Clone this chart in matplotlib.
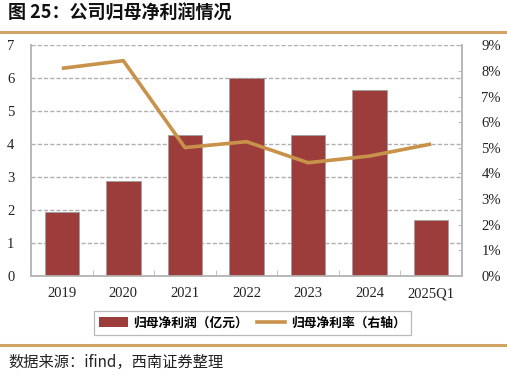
import matplotlib
matplotlib.use("Agg")
import matplotlib.pyplot as plt
from matplotlib.lines import Line2D
import numpy as np

categories = ["2019", "2020", "2021", "2022", "2023", "2024", "2025Q1"]
net_profit = [1.94, 2.87, 4.29, 6.01, 4.28, 5.63, 1.71]
net_margin = [8.10, 8.40, 5.01, 5.24, 4.42, 4.68, 5.15]
left_ticks = [0, 1, 2, 3, 4, 5, 6, 7]
right_ticks = [0, 1, 2, 3, 4, 5, 6, 7, 8, 9]

title = "图 25：公司归母净利润情况"
legend_bar = "归母净利润（亿元）"
legend_line = "归母净利率（右轴）"
source = "数据来源：ifind，西南证券整理"

cjk = ["Noto Sans CJK SC", "DejaVu Sans"]
serif = ["Liberation Serif", "DejaVu Serif"]

bar_color = "#9C3D3B"
line_color = "#C8924A"
rule_color = "#D2A366"
grid_color = "#B0B0B0"
spine_color = "#B8B8B8"

fig = plt.figure(figsize=(5.07, 3.77), dpi=100)
ax = fig.add_axes([31/507, 1-276/377, (462-31)/507, (276-45.3)/377])
ax2 = ax.twinx()

x = np.arange(len(categories))
ax.bar(x, net_profit, width=0.56, color=bar_color, edgecolor="#A0A0A0", linewidth=0.6, zorder=3)
ax.set_xlim(-0.5, len(categories) - 0.5)
ax.set_ylim(0, 7)
ax.set_yticks(left_ticks)
ax.yaxis.grid(True, linestyle=(0, (3, 1.5)), color=grid_color, linewidth=1.0, zorder=0)
ax.set_axisbelow(True)
ax.set_xticks(x)
ax.set_xticklabels(categories)
ax.set_xticks(np.arange(len(categories) + 1) - 0.5, minor=True)
ax.tick_params(axis="x", which="major", length=0, pad=8)
ax.tick_params(axis="x", which="minor", length=4, direction="in", color=spine_color)
ax.tick_params(axis="y", length=0, pad=12)

ax2.plot(x, net_margin, color=line_color, linewidth=2.6, zorder=4, solid_capstyle="butt")
ax2.set_ylim(0, 9)
ax2.set_yticks(right_ticks)
ax2.set_yticklabels([f"{t}%" for t in right_ticks])
ax2.tick_params(axis="y", length=3, direction="in", color=spine_color, pad=14)

for a in (ax, ax2):
    a.spines["top"].set_visible(False)
    for s in ("left", "right", "bottom"):
        a.spines[s].set_color(spine_color)
        a.spines[s].set_linewidth(1.2)
    for lab in a.get_xticklabels() + a.get_yticklabels():
        lab.set_fontfamily(serif)
        lab.set_fontsize(10.5)
        lab.set_color("#222222")

handles = [plt.Rectangle((0, 0), 1, 1, facecolor=bar_color, edgecolor="none"),
           Line2D([0], [0], color=line_color, linewidth=2.6)]
leg = fig.legend(handles, [legend_bar, legend_line], loc="center",
                 bbox_to_anchor=(252.5/507, 1-323/377), ncol=2, frameon=True,
                 fancybox=False, edgecolor="#A8A8A8",
                 prop={"family": cjk, "size": 9.2, "weight": "bold"},
                 handlelength=2.2, handleheight=0.8, columnspacing=0.7, borderpad=0.4,
                 handletextpad=0.45)
leg.get_frame().set_linewidth(0.9)

fig.text(8/507, 1-13/377, title, fontfamily=cjk, fontsize=13, fontweight="bold",
         va="center", ha="left", color="#111111")
fig.add_artist(Line2D([0, 1], [1-31.5/377, 1-31.5/377], color=rule_color, linewidth=2.2))
fig.add_artist(Line2D([0, 1], [1-345/377, 1-345/377], color=rule_color, linewidth=2.2))
fig.text(8/507, 1-362/377, source, fontfamily=cjk, fontsize=11, style="italic",
         va="center", ha="left", color="#222222")

fig.savefig("out.png", dpi=100)
